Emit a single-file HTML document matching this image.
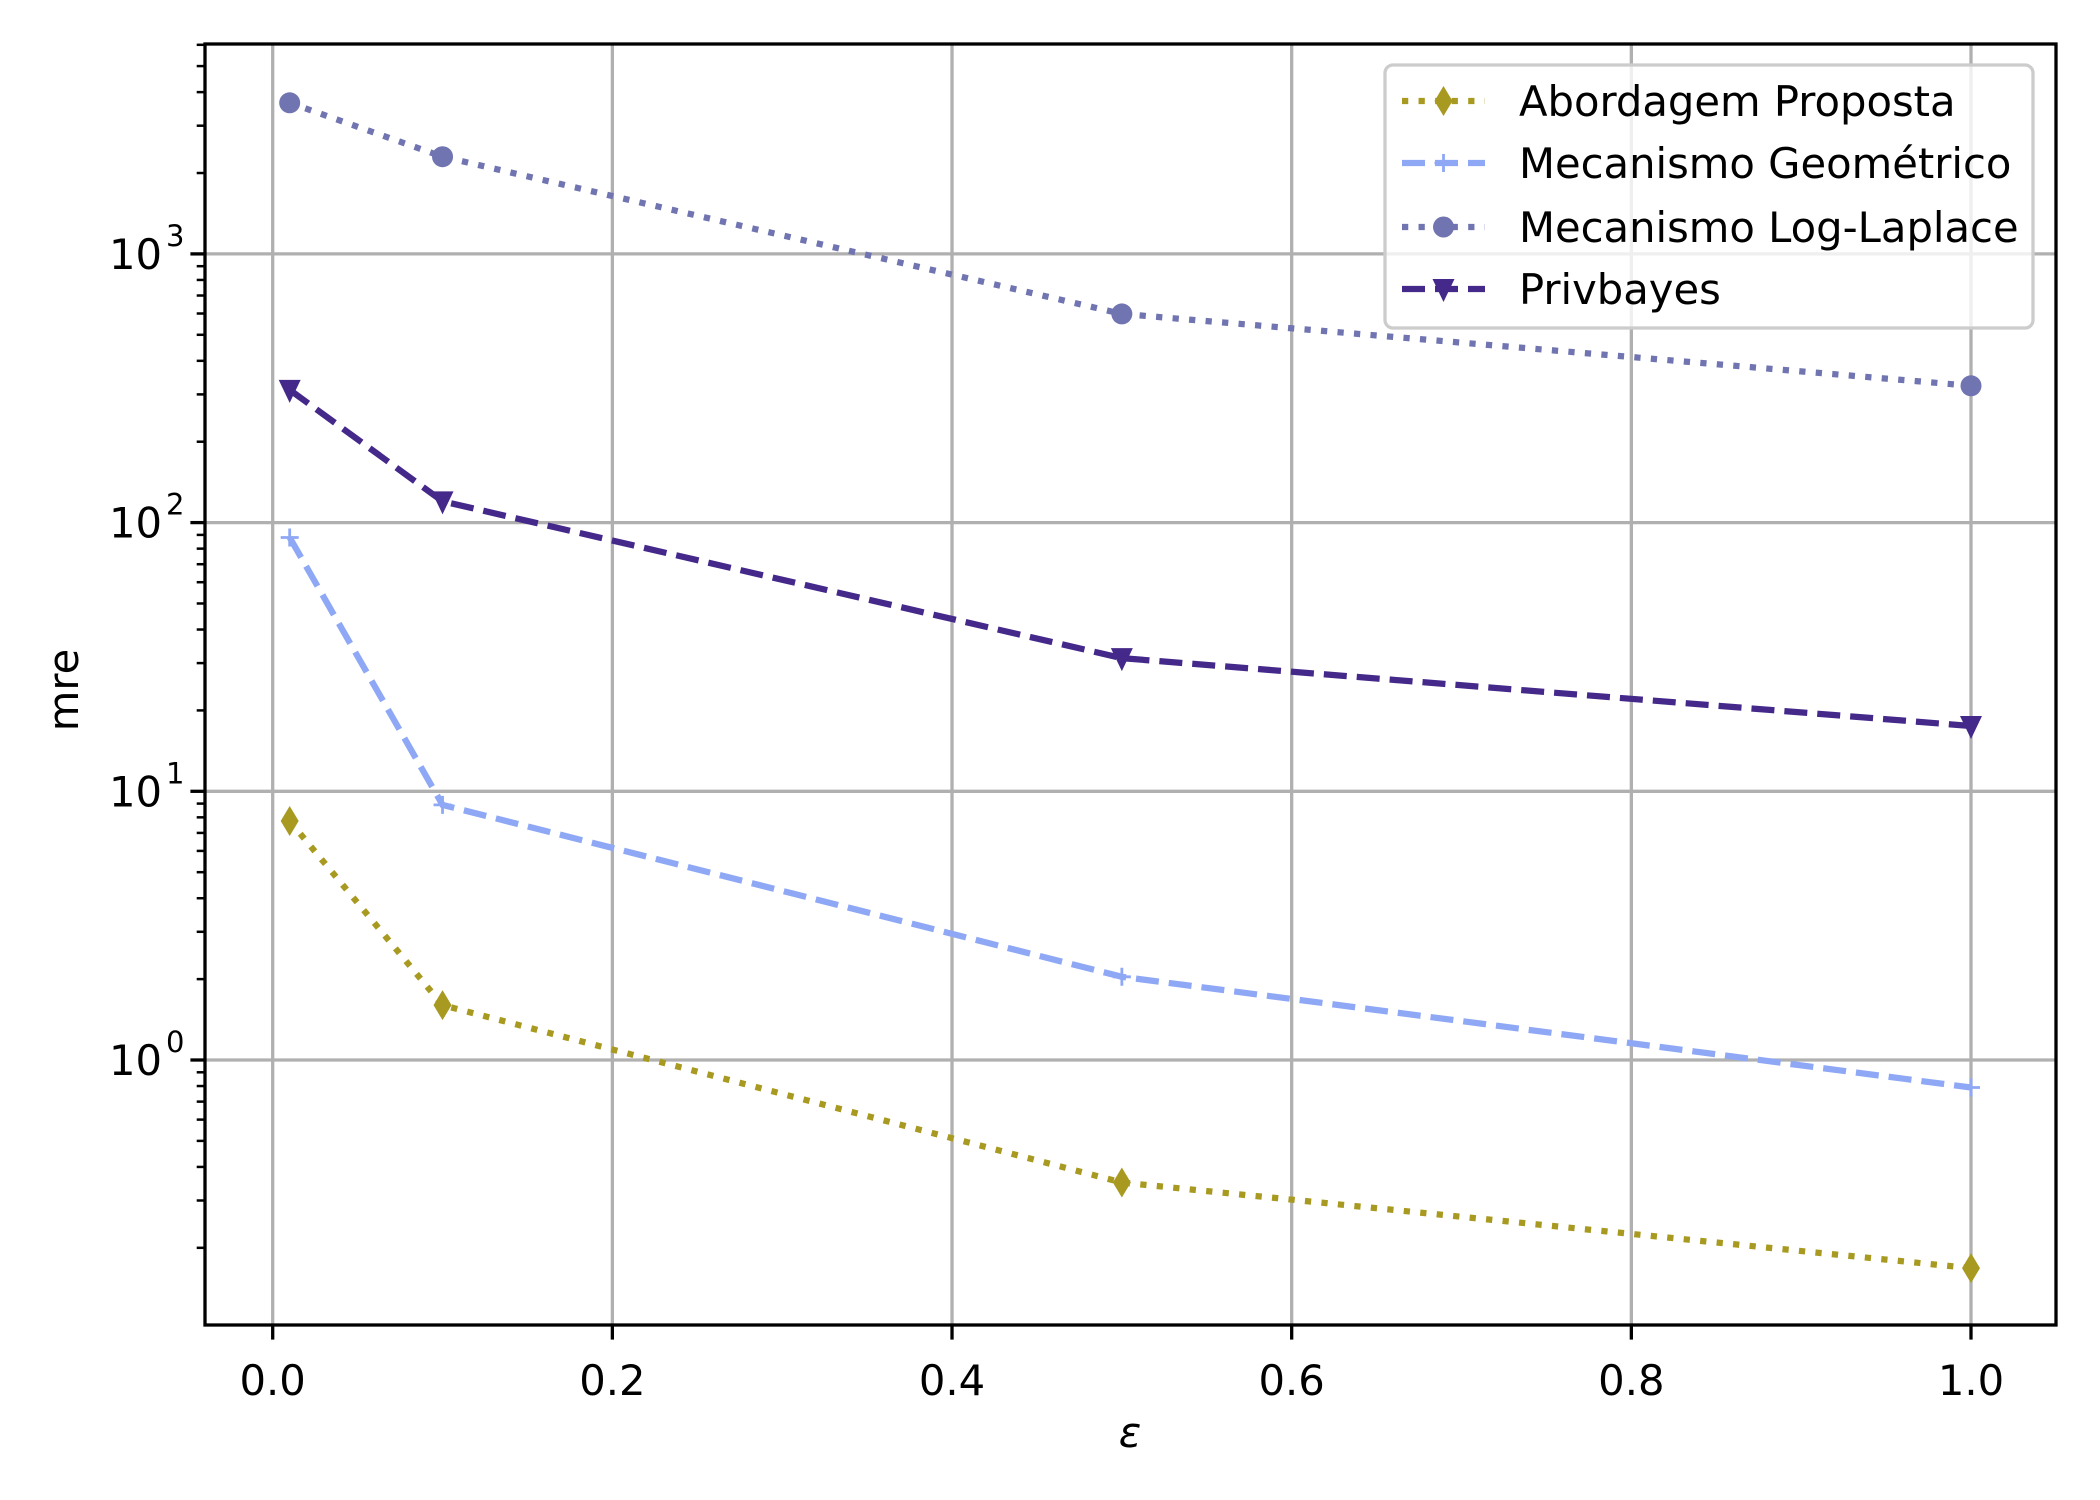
<!DOCTYPE html>
<html><head><meta charset="utf-8">
<style>
html,body{margin:0;padding:0;background:#fff;}
svg{display:block;font-family:"DejaVu Sans","Liberation Sans",sans-serif;}
</style></head>
<body>
<svg id="chart" width="2100" height="1500" viewBox="0 0 2100 1500" xmlns="http://www.w3.org/2000/svg">
<rect width="2100" height="1500" fill="#fff"/>
<g id="grid"></g>
<g id="series"></g>
<g id="axes"></g>
<g id="legend"></g>
<text x="67" y="690" font-size="41.7" text-anchor="middle" transform="rotate(-90 67 690)" dominant-baseline="middle">mre</text>
<text x="1130" y="1447" font-size="41.7" font-style="italic" text-anchor="middle">ε</text>
</svg>
<script>
const xValues = [0.01, 0.1, 0.5, 1.0];
const abordagem = [7.75, 1.6, 0.35, 0.168];
const geometrico = [88, 8.9, 2.04, 0.79];
const logLaplace = [3650, 2300, 598, 323];
const privbayes = [312, 120, 31.3, 17.5];
const xTicks = [0.0, 0.2, 0.4, 0.6, 0.8, 1.0];
const xTickLabels = ["0.0", "0.2", "0.4", "0.6", "0.8", "1.0"];
const yTickExps = [0, 1, 2, 3];
const seriesNames = ["Abordagem Proposta", "Mecanismo Geométrico", "Mecanismo Log-Laplace", "Privbayes"];

const NS = "http://www.w3.org/2000/svg";
const L = 205, R = 2056, T = 44, B = 1325;
const X0 = 272.7, X1 = 1971;
const Y0 = 1060, DEC = 268.7;
function sx(v){ return X0 + (X1 - X0) * v; }
function sy(v){ return Y0 - Math.log10(v) * DEC; }
function mk(tag, attrs, parent){
  const e = document.createElementNS(NS, tag);
  for (const k in attrs) e.setAttribute(k, attrs[k]);
  parent.appendChild(e);
  return e;
}
const grid = document.getElementById('grid');
const axes = document.getElementById('axes');
const seriesG = document.getElementById('series');
const legend = document.getElementById('legend');

xTicks.forEach((t, i) => {
  const ln = mk('line', {x1: sx(t), x2: sx(t), y1: T, y2: B, stroke: '#b0b0b0', 'stroke-width': 3.3}, grid);
  
  
});
yTickExps.forEach(e => {
  const y = sy(Math.pow(10, e));
  const ln = mk('line', {x1: L, x2: R, y1: y, y2: y, stroke: '#b0b0b0', 'stroke-width': 3.3}, grid);
  
  
});

const styles = [
  {data: abordagem, color: '#a89a20', dash: '6.25,10.3', marker: 'diamond'},
  {data: geometrico, color: '#8fa8f5', dash: '23,10', marker: 'plus'},
  {data: logLaplace, color: '#7074b0', dash: '6.25,10.3', marker: 'circle'},
  {data: privbayes, color: '#44288a', dash: '23,10', marker: 'tri'}
];
function drawMarker(type, x, y, color, parent, name){
  let m;
  if (type === 'diamond') m = mk('polygon', {points: `${x},${y-15} ${x+9},${y} ${x},${y+15} ${x-9},${y}`, fill: color}, parent);
  else if (type === 'circle') m = mk('circle', {cx: x, cy: y, r: 10.5, fill: color}, parent);
  else if (type === 'tri') m = mk('polygon', {points: `${x-11},${y-10} ${x+11},${y-10} ${x},${y+13}`, fill: color}, parent);
  else m = mk('path', {d: `M${x-9},${y}H${x+9}M${x},${y-9}V${y+9}`, stroke: color, 'stroke-width': 2.8, fill: 'none'}, parent);
  
  
}
styles.forEach((s, si) => {
  const g = mk('g', {}, seriesG);
  
  
  const pts = s.data.map((v, i) => sx(xValues[i]) + ',' + sy(v)).join(' ');
  const pl = mk('polyline', {points: pts, fill: 'none', stroke: s.color, 'stroke-width': 6.25, 'stroke-dasharray': s.dash}, g);
  
  
  s.data.forEach((v, i) => drawMarker(s.marker, sx(xValues[i]), sy(v), s.color, g, 'data-point'));
});

const frame = mk('rect', {x: L, y: T, width: R - L, height: B - T, fill: 'none', stroke: '#000', 'stroke-width': 3.3}, axes);


xTicks.forEach((t, i) => {
  const x = sx(t);
  const tk = mk('line', {x1: x, x2: x, y1: B, y2: B + 14.6, stroke: '#000', 'stroke-width': 3.3}, axes);
  
  
  const tx = mk('text', {x: x, y: B + 70, 'font-size': 41.7, 'text-anchor': 'middle'}, axes);
  tx.textContent = xTickLabels[i];
  
  
});
for (let e = -1; e <= 3; e++) {
  for (let m = 1; m <= 9; m++) {
    const v = m * Math.pow(10, e);
    const y = sy(v);
    if (y < T || y > B) continue;
    const major = m === 1;
    const tk = mk('line', {x1: L - (major ? 14.6 : 8.3), x2: L, y1: y, y2: y, stroke: '#000', 'stroke-width': major ? 3.3 : 2.5}, axes);
    
    
  }
}
yTickExps.forEach(e => {
  const y = sy(Math.pow(10, e));
  const tx = mk('text', {x: 162, y: y + 15, 'font-size': 41.7, 'text-anchor': 'end'}, axes);
  tx.textContent = '10';
  
  
  const sup = mk('text', {x: 166, y: y - 8, 'font-size': 29, 'text-anchor': 'start'}, axes);
  sup.textContent = String(e);
  
  
});

const box = mk('rect', {x: 1385, y: 65, width: 648, height: 263, rx: 8, fill: '#fff', 'fill-opacity': 0.8, stroke: '#cccccc', 'stroke-width': 3.3}, legend);


const rowY = [101, 163, 227, 289];
styles.forEach((s, i) => {
  const g = mk('g', {}, legend);
  
  
  const ln = mk('line', {x1: 1402, x2: 1485, y1: rowY[i], y2: rowY[i], stroke: s.color, 'stroke-width': 6.25, 'stroke-dasharray': s.dash}, g);
  
  
  drawMarker(s.marker, 1443.5, rowY[i], s.color, g, 'legend-marker');
  const t = mk('text', {x: 1519, y: rowY[i] + 15, 'font-size': 41.7}, g);
  t.textContent = seriesNames[i];
  
  
});
</script>
</body></html>
